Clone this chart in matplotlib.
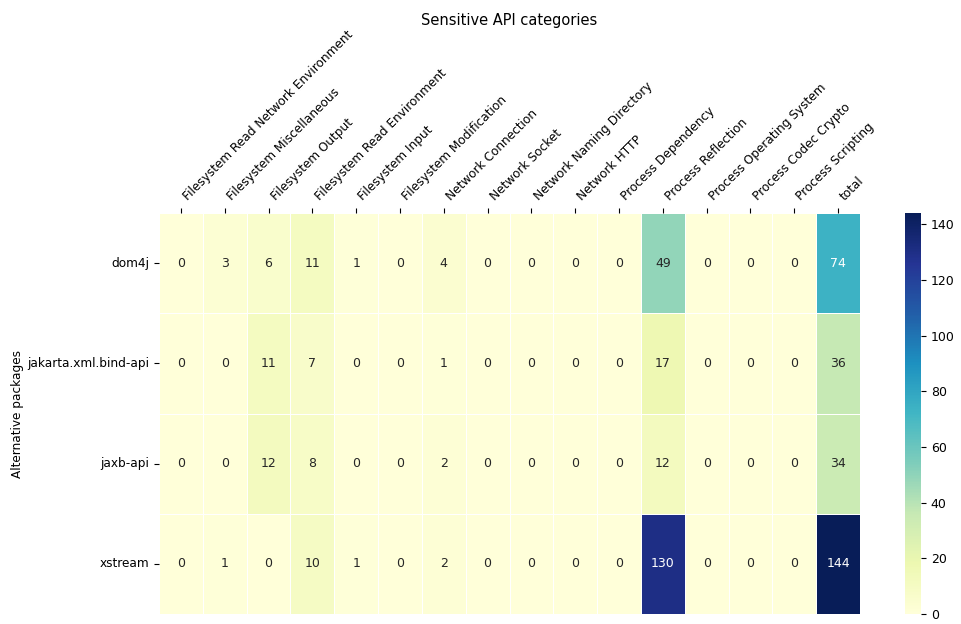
import numpy as np
import pandas as pd
import matplotlib
matplotlib.use("Agg")
import matplotlib.pyplot as plt
import seaborn as sns

categories = ["Filesystem Read Network Environment", "Filesystem Miscellaneous",
              "Filesystem Output", "Filesystem Read Environment", "Filesystem Input",
              "Filesystem Modification", "Network Connection", "Network Socket",
              "Network Naming Directory", "Network HTTP", "Process Dependency",
              "Process Reflection", "Process Operating System", "Process Codec Crypto",
              "Process Scripting", "total"]
packages = ["dom4j", "jakarta.xml.bind-api", "jaxb-api", "xstream"]
dom4j = [0, 3, 6, 11, 1, 0, 4, 0, 0, 0, 0, 49, 0, 0, 0, 74]
jakarta = [0, 0, 11, 7, 0, 0, 1, 0, 0, 0, 0, 17, 0, 0, 0, 36]
jaxb = [0, 0, 12, 8, 0, 0, 2, 0, 0, 0, 0, 12, 0, 0, 0, 34]
xstream = [0, 1, 0, 10, 1, 0, 2, 0, 0, 0, 0, 130, 0, 0, 0, 144]

df = pd.DataFrame([dom4j, jakarta, jaxb, xstream], index=packages, columns=categories)

fig = plt.figure(figsize=(9.61, 6.24), dpi=100)
ax = fig.add_axes([159/961, 10/624, 701/961, 401/624])
cax = fig.add_axes([905/961, 10/624, 16/961, 401/624])
sns.heatmap(df, ax=ax, cbar_ax=cax, cmap="YlGnBu", annot=True, fmt="d",
            linewidths=0.7, linecolor="white", annot_kws={"fontsize": 9})
ax.xaxis.tick_top()
ax.xaxis.set_label_position("top")
ax.set_xticklabels(categories, rotation=45, ha="left", fontsize=8.7)
ax.set_yticklabels(packages, rotation=0, fontsize=8.7)
ax.tick_params(axis="both", length=3.5)
ax.set_xlabel("Sensitive API categories", fontsize=10.5)
ax.xaxis.set_label_coords(0.5, 1.468)
ax.set_ylabel("Alternative packages", fontsize=8.7)
ax.yaxis.set_label_coords(-0.192, 0.5)
cax.tick_params(labelsize=9, length=3.5)
fig.savefig("out.png", dpi=100)
